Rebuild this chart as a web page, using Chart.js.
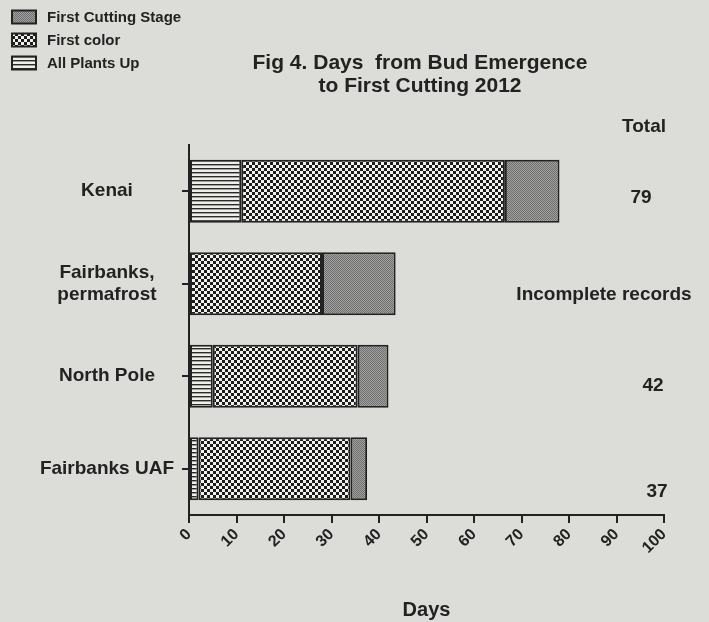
<!DOCTYPE html>
<html>
<head>
<meta charset="utf-8">
<script src="https://cdn.jsdelivr.net/npm/chart.js@4.4.1/dist/chart.umd.min.js"></script>
<style>
  body { margin: 0; background: #dcdcd9; }
  #wrap { width: 709px; height: 622px; }
</style>
</head>
<body>
<div id="wrap"><canvas id="myChart"></canvas></div>
<script>
const categories = ["Kenai", ["Fairbanks,", "permafrost"], "North Pole", "Fairbanks UAF"];
const plantsUp = [11, 0, 5, 2];
const firstColor = [55.5, 28, 30.5, 32];
const firstCutting = [11.5, 15.5, 6.5, 3.5];
const xTicks = [0, 10, 20, 30, 40, 50, 60, 70, 80, 90, 100];
const sideLabels = ["79", "Incomplete records", "42", "37"];

const ink = "#222";
const font = "'Liberation Sans', Arial, sans-serif";

// little tiles for the fill patterns
function makePattern(kind) {
  const c = document.createElement("canvas");
  const g = c.getContext("2d");
  if (kind === "lines") {
    c.width = 4; c.height = 4;
    g.fillStyle = "#eeeeea";
    g.fillRect(0, 0, 4, 4);
    g.fillStyle = "#2a2a2a";
    g.fillRect(0, 0, 4, 1.4);
  } else if (kind === "checker") {
    c.width = 6; c.height = 6;
    g.fillStyle = "#f2f2ee";
    g.fillRect(0, 0, 6, 6);
    g.fillStyle = "#1c1c1c";
    g.fillRect(0, 0, 3, 3);
    g.fillRect(3, 3, 3, 3);
  } else {
    c.width = 2; c.height = 2;
    g.fillStyle = "#a2a2a0";
    g.fillRect(0, 0, 2, 2);
    g.fillStyle = "#6e6e6e";
    g.fillRect(0, 0, 1, 1);
    g.fillRect(1, 1, 1, 1);
  }
  return g.createPattern(c, "repeat");
}

const data = {
  labels: categories,
  datasets: [
    {
      label: "All Plants Up",
      data: plantsUp,
      backgroundColor: makePattern("lines"),
    },
    {
      label: "First color",
      data: firstColor,
      backgroundColor: makePattern("checker"),
    },
    {
      label: "First Cutting Stage",
      data: firstCutting,
      backgroundColor: makePattern("dots"),
    },
  ],
};
data.datasets.forEach(function (d) {
  d.borderColor = ink;
  // no outline for empty segments
  d.borderWidth = function (c) { return c.raw ? 2 : 0; };
  d.borderSkipped = false;
  d.barPercentage = 0.68;
  d.categoryPercentage = 1;
});

const extras = {
  id: "extras",
  afterDraw(chart) {
    const g = chart.ctx;
    const ys = chart.scales.y;
    g.save();
    g.fillStyle = ink;
    g.textAlign = "center";
    g.textBaseline = "middle";

    // title
    g.font = "bold 21px " + font;
    g.fillText("Fig 4. Days  from Bud Emergence", 420, 63);
    g.fillText("to First Cutting 2012", 420, 86);

    // right-hand notes
    g.font = "bold 19px " + font;
    g.fillText("Total", 644, 127);
    const xs = [641, 604, 653, 657];
    const dy = [7, 11, 10, 23];
    sideLabels.forEach(function (t, i) {
      g.fillText(t, xs[i], ys.getPixelForValue(i) + dy[i]);
    });

    // legend, reversed order
    g.textAlign = "left";
    g.font = "bold 15px " + font;
    const rows = chart.data.datasets.slice().reverse();
    rows.forEach(function (d, i) {
      const y = 17 + i * 23;
      g.fillStyle = d.backgroundColor;
      g.fillRect(12, y - 6.5, 24, 13);
      g.strokeStyle = ink;
      g.lineWidth = 2;
      g.strokeRect(12, y - 6.5, 24, 13);
      g.fillStyle = ink;
      g.fillText(d.label, 47, y + 1);
    });
    g.restore();
  },
};

const config = {
  type: "bar",
  data: data,
  options: {
    indexAxis: "y",
    responsive: true,
    maintainAspectRatio: false,
    animation: false,
    layout: { padding: { top: 145, right: 45, left: 0, bottom: 0 } },
    plugins: {
      legend: { display: false },
      tooltip: { enabled: false },
    },
    scales: {
      x: {
        stacked: true,
        min: 0,
        max: 100,
        afterBuildTicks: function (s) {
          s.ticks = xTicks.map(function (v) { return { value: v }; });
        },
        afterFit: function (s) { s.height = 107; },
        grid: { drawOnChartArea: false, tickLength: 8, color: ink, lineWidth: 2 },
        border: { color: ink, width: 2 },
        ticks: {
          color: ink,
          font: { family: font, size: 16, weight: "bold" },
          minRotation: 45,
          maxRotation: 45,
          padding: 2,
        },
        title: {
          display: true,
          text: "Days",
          color: ink,
          font: { family: font, size: 20, weight: "bold" },
          padding: { top: 4, bottom: 0 },
        },
      },
      y: {
        stacked: true,
        afterFit: function (s) { s.width = 189; },
        grid: { drawOnChartArea: false, offset: false, tickLength: 7, color: ink, lineWidth: 2 },
        border: { color: ink, width: 2 },
        ticks: {
          color: ink,
          crossAlign: "center",
          padding: 8,
          font: { family: font, size: 19, weight: "bold", lineHeight: 1.15 },
        },
      },
    },
  },
  plugins: [extras],
};

const myChart = new Chart(document.getElementById("myChart"), config);
</script>
</body>
</html>
